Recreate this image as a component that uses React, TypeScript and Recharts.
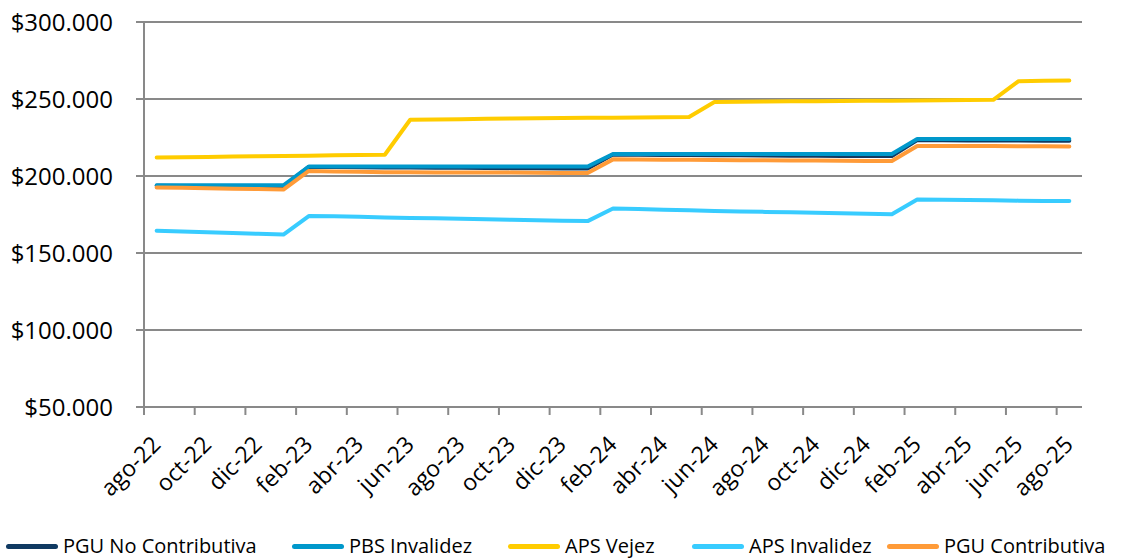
import React from 'react';
import { ComposedChart, Line, XAxis, YAxis, CartesianGrid, Legend } from 'recharts';

const months = [
  'ago-22','sep-22','oct-22','nov-22','dic-22','ene-23','feb-23','mar-23','abr-23','may-23','jun-23','jul-23',
  'ago-23','sep-23','oct-23','nov-23','dic-23','ene-24','feb-24','mar-24','abr-24','may-24','jun-24','jul-24',
  'ago-24','sep-24','oct-24','nov-24','dic-24','ene-25','feb-25','mar-25','abr-25','may-25','jun-25','jul-25','ago-25',
];

const tickLabels = [
  'ago-22','oct-22','dic-22','feb-23','abr-23','jun-23','ago-23','oct-23','dic-23','feb-24',
  'abr-24','jun-24','ago-24','oct-24','dic-24','feb-25','abr-25','jun-25','ago-25',
];

const yTicks = [50000, 100000, 150000, 200000, 250000, 300000];

const pguNoContributiva = [
  193600, 193500, 193400, 193300, 193200, 193100,
  205900, 205800, 205700, 205600, 205500, 205400, 205300, 205200, 205100, 205000, 204900, 204900,
  213900, 213800, 213700, 213600, 213500, 213400, 213300, 213200, 213100, 213000, 213000, 213000,
  223300, 223200, 223100, 223000, 223000, 222900, 222900,
];

const pbsInvalidez = [
  193917, 193917, 193917, 193917, 193917, 193917,
  206173, 206173, 206173, 206173, 206173, 206173, 206173, 206173, 206173, 206173, 206173, 206173,
  214296, 214296, 214296, 214296, 214296, 214296, 214296, 214296, 214296, 214296, 214296, 214296,
  224004, 224004, 224004, 224004, 224004, 224004, 224004,
];

const apsVejez = [
  212000, 212200, 212400, 212600, 212800, 213000, 213200, 213400, 213600, 213800,
  236500, 236700, 236900, 237100, 237300, 237500, 237700, 237800, 237900, 238000, 238100, 238300,
  248000, 248200, 248400, 248500, 248600, 248700, 248800, 248900, 249000, 249200, 249300, 249500,
  261600, 261800, 262000,
];

const apsInvalidez = [
  164500, 164000, 163500, 163000, 162500, 162000,
  174000, 173800, 173500, 173100, 172800, 172500, 172200, 171900, 171600, 171300, 171000, 170700,
  178900, 178500, 178100, 177700, 177300, 177000, 176700, 176400, 176100, 175800, 175500, 175200,
  184800, 184600, 184400, 184200, 184000, 183800, 183700,
];

const pguContributiva = [
  192600, 192400, 192100, 191800, 191500, 191200,
  203300, 203000, 202700, 202500, 202400, 202300, 202300, 202200, 202200, 202100, 202000, 202000,
  210800, 210700, 210600, 210500, 210400, 210300, 210200, 210100, 210000, 209900, 209800, 209700,
  219500, 219500, 219400, 219400, 219300, 219300, 219200,
];

const series = [
  { key: 'pguNC', name: 'PGU No Contributiva', color: '#103A62', values: pguNoContributiva },
  { key: 'pbsInv', name: 'PBS Invalidez', color: '#0098CB', values: pbsInvalidez },
  { key: 'apsVej', name: 'APS Vejez', color: '#FFCC00', values: apsVejez },
  { key: 'apsInv', name: 'APS Invalidez', color: '#38CCFF', values: apsInvalidez },
  { key: 'pguC', name: 'PGU Contributiva', color: '#FF9B38', values: pguContributiva },
];

const data = months.map((m, i) => {
  const row: Record<string, number | string> = { month: m, x: i + 0.5 };
  series.forEach((s) => { row[s.key] = s.values[i]; });
  return row;
});

const xTickValues = tickLabels.map((_, i) => i * 2);

const FONT = '"Open Sans", sans-serif';
const AXIS = '#898989';

const fmt = (v: number) => '$' + String(v).replace(/\B(?=(\d{3})+(?!\d))/g, '.');

const XTick = (props: any) => {
  const { x, y, payload } = props;
  const label = tickLabels[Math.round(payload.value / 2)];
  const tx = x + 18;
  const ty = y + 31;
  return (
    <text x={tx} y={ty} transform={`rotate(-45 ${tx} ${ty})`} textAnchor="end" fontSize={23} fill="#000" fontFamily={FONT}>
      {label}
    </text>
  );
};

const legendLefts = [6, 292, 508, 692, 887];

const renderLegend = () => (
  <div style={{ position: 'relative', width: 1125, height: 24 }}>
    {series.map((s, i) => (
      <div key={s.key} style={{ position: 'absolute', left: legendLefts[i], top: 0, height: 24, display: 'flex', alignItems: 'center', whiteSpace: 'nowrap' }}>
        <div style={{ width: 52, height: 5, borderRadius: 3, background: s.color, marginRight: 5 }} />
        <span style={{ fontFamily: FONT, fontSize: 20, color: '#000', lineHeight: '24px' }}>{s.name}</span>
      </div>
    ))}
  </div>
);

export default function App() {
  return (
    <div style={{ position: 'absolute', left: 0, top: 0, width: 1125, height: 558, background: '#fff' }}>
      <ComposedChart width={1125} height={558} data={data} margin={{ top: 22, right: 43, bottom: 0, left: 0 }}>
        <CartesianGrid horizontal vertical={false} stroke={AXIS} strokeWidth={2} />
        <XAxis
          dataKey="x"
          type="number"
          domain={[0, 37]}
          ticks={xTickValues}
          interval={0}
          tick={<XTick />}
          tickLine={{ stroke: AXIS, strokeWidth: 2 }}
          axisLine={{ stroke: AXIS, strokeWidth: 2 }}
          tickSize={8}
          tickMargin={0}
          height={127}
        />
        <YAxis
          domain={[50000, 300000]}
          ticks={yTicks}
          interval={0}
          tickFormatter={fmt}
          width={144}
          tick={{ fontSize: 24, fill: '#000', fontFamily: FONT }}
          tickLine={{ stroke: AXIS, strokeWidth: 2 }}
          axisLine={{ stroke: AXIS, strokeWidth: 2 }}
          tickSize={8}
          tickMargin={23}
        />
        <Legend verticalAlign="bottom" content={renderLegend} wrapperStyle={{ left: 0, width: 1125, height: 24 }} />
        {series.map((s) => (
          <Line
            key={s.key}
            type="linear"
            dataKey={s.key}
            name={s.name}
            stroke={s.color}
            strokeWidth={4}
            strokeLinecap="round"
            strokeLinejoin="round"
            dot={false}
            activeDot={false}
            isAnimationActive={false}
          />
        ))}
      </ComposedChart>
    </div>
  );
}
